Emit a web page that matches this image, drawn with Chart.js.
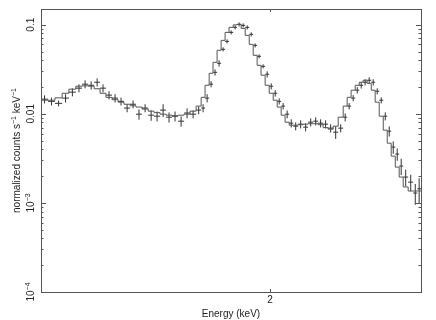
<!DOCTYPE html>
<html>
<head>
  <meta charset="UTF-8" />
  <title>spectrum</title>
  <script src="https://cdn.jsdelivr.net/npm/chart.js"></script>
  <style>
    html, body { margin: 0; padding: 0; background: #fff }
    #spec { display: block }
  </style>
</head>
<body>
  <canvas id="spec" width="436" height="320"></canvas>
  <script>
    // bin edges (keV)
    const edges = [1.200, 1.219, 1.238, 1.258, 1.277, 1.297, 1.315, 1.333, 1.351, 1.369, 1.387, 1.406, 1.425, 1.444,
      1.464, 1.483, 1.503, 1.524, 1.544, 1.565, 1.586, 1.607, 1.629, 1.651, 1.673, 1.696, 1.715, 1.730, 1.746, 1.761,
      1.777, 1.793, 1.809, 1.825, 1.842, 1.858, 1.875, 1.892, 1.909, 1.926, 1.943, 1.960, 1.978, 1.996, 2.014, 2.032,
      2.050, 2.068, 2.087, 2.106, 2.129, 2.153, 2.177, 2.202, 2.226, 2.251, 2.276, 2.302, 2.328, 2.354, 2.375, 2.396,
      2.418, 2.440, 2.461, 2.483, 2.506, 2.528, 2.551, 2.574, 2.597, 2.620, 2.644, 2.667, 2.691, 2.721, 2.752, 2.777, 2.800];

    // folded model, counts s-1 keV-1
    const model = [0.0142, 0.0142, 0.0142, 0.0151, 0.0170, 0.0189, 0.0204, 0.0206, 0.0204, 0.0191,
      0.0170, 0.0153, 0.0144, 0.0135, 0.0128, 0.0123, 0.0119, 0.0113, 0.0107, 0.0103,
      0.0099, 0.00965, 0.00952, 0.00965, 0.0099, 0.0107, 0.0122, 0.0153, 0.0209, 0.0285,
      0.0378, 0.0516, 0.0667, 0.0820, 0.0933, 0.0995, 0.1008, 0.0909, 0.0759, 0.0602,
      0.0453, 0.0350, 0.0271, 0.0209, 0.0170, 0.0142, 0.0119, 0.00965, 0.00805, 0.00745,
      0.00745, 0.00755, 0.00765, 0.00774, 0.00774, 0.00755, 0.00699, 0.00672, 0.00726, 0.00916,
      0.0122, 0.0153, 0.0184, 0.0209, 0.0226, 0.0238, 0.0220, 0.0184, 0.0135, 0.0094,
      0.00655, 0.00468, 0.00335, 0.00252, 0.00195, 0.00151, 0.00136, 0.00136];

    // observed rate and 1-sigma errors
    const rate = [0.0146, 0.0138, 0.0131, 0.0150, 0.0175, 0.0194, 0.0215, 0.0209, 0.0226, 0.0194,
      0.0162, 0.0150, 0.0138, 0.0116, 0.0128, 0.0099, 0.0116, 0.00965, 0.0094, 0.0110,
      0.00916, 0.0094, 0.00826, 0.0102, 0.0099, 0.0110, 0.0116, 0.0150, 0.0215, 0.0292,
      0.0369, 0.0529, 0.0650, 0.0820, 0.0933, 0.1008, 0.0982, 0.0933, 0.0779, 0.0586,
      0.0442, 0.0341, 0.0278, 0.0204, 0.0170, 0.0138, 0.0122, 0.0099, 0.00785, 0.00726,
      0.00765, 0.00708, 0.00805, 0.00826, 0.00785, 0.00765, 0.00690, 0.00622, 0.00690, 0.00916,
      0.0122, 0.0150, 0.0184, 0.0209, 0.0226, 0.0238, 0.0226, 0.0179, 0.0142, 0.0094,
      0.00638, 0.00423, 0.00353, 0.00259, 0.00195, 0.00171, 0.00129, 0.00144];

    const rateErr = [0.0015, 0.0014, 0.0010, 0.0016, 0.0018, 0.0020, 0.0022, 0.0022, 0.0024, 0.0020,
      0.0017, 0.0016, 0.0014, 0.0012, 0.0013, 0.0013, 0.0012, 0.0013, 0.0012, 0.0018,
      0.0012, 0.0012, 0.0011, 0.0013, 0.0010, 0.0011, 0.0012, 0.0016, 0.0017, 0.0023,
      0.0030, 0.0028, 0.0034, 0.0043, 0.0049, 0.0053, 0.0052, 0.0049, 0.0041, 0.0031,
      0.0023, 0.0018, 0.0022, 0.0016, 0.0014, 0.0011, 0.0010, 0.0010, 0.00082, 0.00076,
      0.00080, 0.00074, 0.00084, 0.00086, 0.00082, 0.00080, 0.00072, 0.0010, 0.00072, 0.00095,
      0.0010, 0.0012, 0.0015, 0.0017, 0.0018, 0.0019, 0.0018, 0.0014, 0.0011, 0.00098,
      0.00083, 0.00068, 0.00056, 0.00054, 0.00041, 0.00036, 0.00034, 0.00045];

    const xRange = [1.2, 2.8];
    const yRange = [1e-4, 0.15];
    const xTicks = [2];
    const xTickLabels = ['2'];
    const yTicks = [1e-4, 1e-3, 0.01, 0.1];
    const yTickLabels = [['10', '\u22124'], ['10', '\u22123'], ['0.01', ''], ['0.1', '']];

    // model as histogram steps
    const modelPts = model.map((v, i) => ({ x: edges[i], y: v }));
    modelPts.push({ x: edges[edges.length - 1], y: model[model.length - 1] });

    // data as crosses, segments split by null
    const crossPts = [];
    rate.forEach((v, i) => {
      const lo = edges[i], hi = edges[i + 1], mid = (lo + hi) / 2;
      crossPts.push({ x: lo, y: v }, { x: hi, y: v }, { x: mid, y: null });
      crossPts.push({ x: mid, y: v - rateErr[i] }, { x: mid, y: v + rateErr[i] }, { x: mid, y: null });
    });

    const FONT = '"Liberation Sans", Arial, sans-serif';

    // rotated text with optional superscripts, baseline at screen x = bx
    function vText(ctx, parts, bx, cy) {
      ctx.save();
      ctx.translate(bx, cy);
      ctx.rotate(-Math.PI / 2);
      let total = 0;
      parts.forEach(p => { ctx.font = (p.sup ? 7 : 10) + 'px ' + FONT; total += ctx.measureText(p.t).width; });
      let pos = -total / 2;
      parts.forEach(p => {
        ctx.font = (p.sup ? 7 : 10) + 'px ' + FONT;
        ctx.fillText(p.t, pos, p.sup ? -4 : 0);
        pos += ctx.measureText(p.t).width;
      });
      ctx.restore();
    }

    const framePlugin = {
      id: 'frame',
      afterDatasetsDraw(chart) {
        const { ctx, chartArea: a, scales: { x, y } } = chart;
        ctx.save();
        ctx.strokeStyle = '#555';
        ctx.lineWidth = 1;
        ctx.strokeRect(a.left + 0.5, a.top + 0.5, a.right - a.left, a.bottom - a.top);
        ctx.beginPath();
        for (let e = -4; e <= -1; e++) {
          for (let m = 1; m <= 9; m++) {
            const v = m * Math.pow(10, e);
            if (v > yRange[1]) continue;
            const py = Math.round(y.getPixelForValue(v)) + 0.5;
            const len = m === 1 ? 5 : 2.5;
            ctx.moveTo(a.left, py); ctx.lineTo(a.left + len, py);
            ctx.moveTo(a.right, py); ctx.lineTo(a.right - len, py);
          }
        }
        xTicks.forEach(t => {
          const px = Math.round(x.getPixelForValue(t)) + 0.5;
          ctx.moveTo(px, a.bottom); ctx.lineTo(px, a.bottom - 3);
          ctx.moveTo(px, a.top); ctx.lineTo(px, a.top + 3);
        });
        ctx.stroke();

        ctx.fillStyle = '#222';
        ctx.textBaseline = 'alphabetic';
        ctx.textAlign = 'left';
        yTicks.forEach((t, i) => {
          const [base, sup] = yTickLabels[i];
          const parts = [{ t: base }];
          if (sup) parts.push({ t: sup, sup: true });
          vText(ctx, parts, a.left - 7.5, y.getPixelForValue(t));
        });
        vText(ctx, [{ t: 'normalized counts s' }, { t: '\u22121', sup: true }, { t: ' keV' }, { t: '\u22121', sup: true }],
          19.5, (a.top + a.bottom) / 2);

        ctx.textAlign = 'center';
        ctx.font = '10px ' + FONT;
        xTicks.forEach((t, i) => ctx.fillText(xTickLabels[i], x.getPixelForValue(t), a.bottom + 10.5));
        ctx.fillText('Energy (keV)', (a.left + a.right) / 2, a.bottom + 24.5);
        ctx.restore();
      }
    };

    new Chart(document.getElementById('spec'), {
      type: 'line',
      data: {
        datasets: [
          { label: 'model', data: modelPts, stepped: 'after', borderColor: '#555', borderWidth: 1, pointRadius: 0, fill: false },
          { label: 'data', data: crossPts, borderColor: '#333', borderWidth: 1, pointRadius: 0, fill: false, spanGaps: false, tension: 0 }
        ]
      },
      options: {
        responsive: false,
        animation: false,
        layout: { padding: { left: 41, right: 15, top: 9, bottom: 28 } },
        plugins: { legend: { display: false }, tooltip: { enabled: false } },
        events: [],
        scales: {
          x: { type: 'logarithmic', min: xRange[0], max: xRange[1], display: false },
          y: { type: 'logarithmic', min: yRange[0], max: yRange[1], display: false }
        }
      },
      plugins: [framePlugin]
    });
  </script>
</body>
</html>
